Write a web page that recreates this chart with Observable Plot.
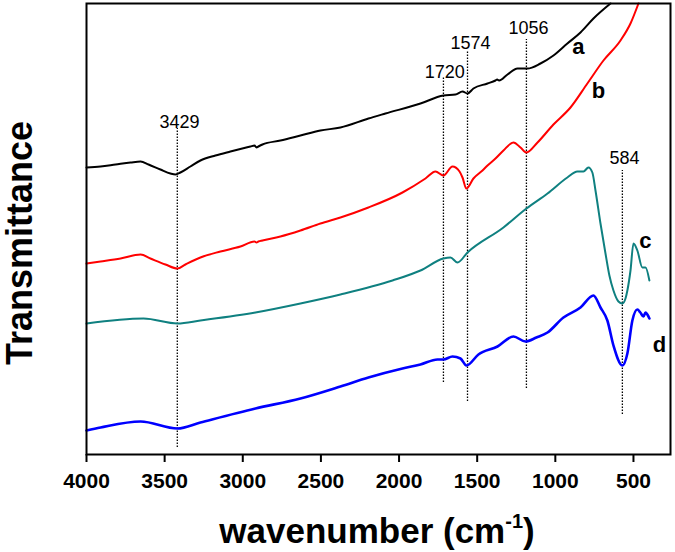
<!DOCTYPE html>
<html><head><meta charset="utf-8">
<script src="https://cdn.jsdelivr.net/npm/d3@7"></script>
<script src="https://cdn.jsdelivr.net/npm/@observablehq/plot@0.6"></script>
<style>body{margin:0;background:#fff}</style>
</head><body><div id="chart"></div>
<script>
// wavenumber (cm-1) and transmittance (arbitrary units, offset spectra)
const waveA  = [4000,3910,3814,3718,3654,3603,3527,3463,3431,3399,3335,3271,3175,3079,2951,2925,2912,2900,2874,2759,2631,2503,2375,2196,2087,1863,1716,1639,1594,1562,1524,1434,1383,1372,1360,1306,1242,1178,1095,1012,923,839,756,647];
const transA = [287,288,290,292,293,290,285,281,280,282,288,294,299,303,308,309,307,308,310,314,319,324,327,336,341,351,359,360,363,361,366,371,374,375,374,380,386,386,391,399,411,422,436,451];

const waveB  = [4000,3910,3782,3654,3591,3495,3418,3367,3271,3143,3015,2925,2912,2900,2874,2759,2631,2503,2375,2196,1978,1831,1767,1716,1658,1613,1594,1569,1524,1466,1434,1383,1332,1268,1223,1185,1114,1012,903,795,692,583,519,468];
const transB = [191,193,196,200,196,190,186,190,197,203,208,213,212,213,214,218,224,231,237,247,262,276,283,279,288,283,277,266,276,284,289,296,304,312,307,302,312,330,347,371,394,414,431,451];

const waveC  = [4000,3635,3418,3271,2919,2631,2375,2042,1863,1716,1671,1626,1562,1332,1185,1050,923,859,820,788,763,743,711,679,654,628,596,571,551,539,519,500,475,443,423,398];
const transC = [131,136,131,134,142,151,160,174,184,196,197,192,202,227,246,261,277,283,283,287,282,264,231,201,179,164,153,151,156,164,184,211,204,187,187,174];

const waveD  = [4000,3910,3654,3418,3271,2919,2631,2375,2196,1978,1863,1754,1716,1658,1607,1569,1492,1370,1268,1191,1121,1050,948,839,756,711,667,628,571,539,507,475,456,436,423,411,398];
const transD = [24,27,33,26,32,46,56,68,77,86,90,95,95,98,96,89,100,108,118,113,117,122,137,147,159,147,134,109,89,101,134,145,142,138,142,140,136];

const seriesNames  = ["a","b","c","d"];
const seriesColors = ["#000000","#ff0000","#0f8080","#0000ff"];
const seriesWidths = [2, 2, 2, 2.6];

// dotted marker lines: position, extent, label
const peakPos    = [3419,1716,1562,1185,571];
const peakBottom = [7,72,53,66,40];
const peakTop    = [326,377,404,415,284];
const peakText   = ["3429","1720","1574","1056","584"];
const peakLabelX = [3405,1707,1543,1172,558];
const peakLabelY = [327,377,406,421,291];

// series letter labels
const letterX = [852,724,423,334];
const letterY = [401,357,207,103];

const xTicks = [4000,3500,3000,2500,2000,1500,1000,500];

const allW = [waveA, waveB, waveC, waveD];
const allT = [transA, transB, transC, transD];
const spectra = seriesNames.map((s, i) => allW[i].map((w, j) => ({series: s, w, t: allT[i][j]})));
const peaks = peakPos.map((p, i) => ({w: p, y1: peakBottom[i], y2: peakTop[i]}));
const peakLabels = peakText.map((t, i) => ({text: t, w: peakLabelX[i], t: peakLabelY[i]}));
const letters = seriesNames.map((s, i) => ({text: s, w: letterX[i], t: letterY[i]}));

const font = "'Liberation Sans', Arial, Helvetica, sans-serif";

const chart = Plot.plot({
  width: 675,
  height: 552,
  marginLeft: 86,
  marginRight: 5,
  marginTop: 3,
  marginBottom: 98,
  style: {fontFamily: font, color: "black", background: "white"},
  x: {domain: [4000, 263]},
  y: {domain: [0, 451], axis: null},
  color: {domain: seriesNames, range: seriesColors},
  marks: [
    Plot.ruleX(peaks, {x: "w", y1: "y1", y2: "y2", stroke: "black", strokeWidth: 1.3, strokeDasharray: "1.5 1.5"}),
    ...spectra.map((d, i) => Plot.line(d, {x: "w", y: "t", stroke: "series", strokeWidth: seriesWidths[i], curve: "monotone-x"})),
    Plot.text(peakLabels, {x: "w", y: "t", text: "text", fontSize: 18, lineAnchor: "bottom", fill: "black"}),
    Plot.text(letters, {x: "w", y: "t", text: "text", fontSize: 22, fontWeight: "bold", lineAnchor: "bottom", fill: "black"}),
    Plot.frame({stroke: "black", strokeWidth: 2}),
    Plot.axisX({ticks: xTicks, tickFormat: d => String(d), tickSize: 8, tickPadding: 11, strokeWidth: 2, fontSize: 21, fontWeight: "bold", label: null})
  ]
});

const svg = d3.select(chart);
const xt = svg.append("text")
  .attr("x", 377).attr("y", 543)
  .attr("text-anchor", "middle")
  .style("font-family", font).style("font-size", "35px").style("font-weight", "bold").attr("fill", "black");
xt.append("tspan").text("wavenumber (cm");
xt.append("tspan").text("-1").style("font-size", "20px").attr("dy", -15);
xt.append("tspan").text(")").attr("dy", 15);

svg.append("text")
  .attr("transform", "translate(32,243) rotate(-90)")
  .attr("text-anchor", "middle")
  .style("font-family", font).style("font-size", "36px").style("font-weight", "bold").attr("fill", "black")
  .text("Transmittance");

document.getElementById("chart").appendChild(chart);
</script>
</body></html>
